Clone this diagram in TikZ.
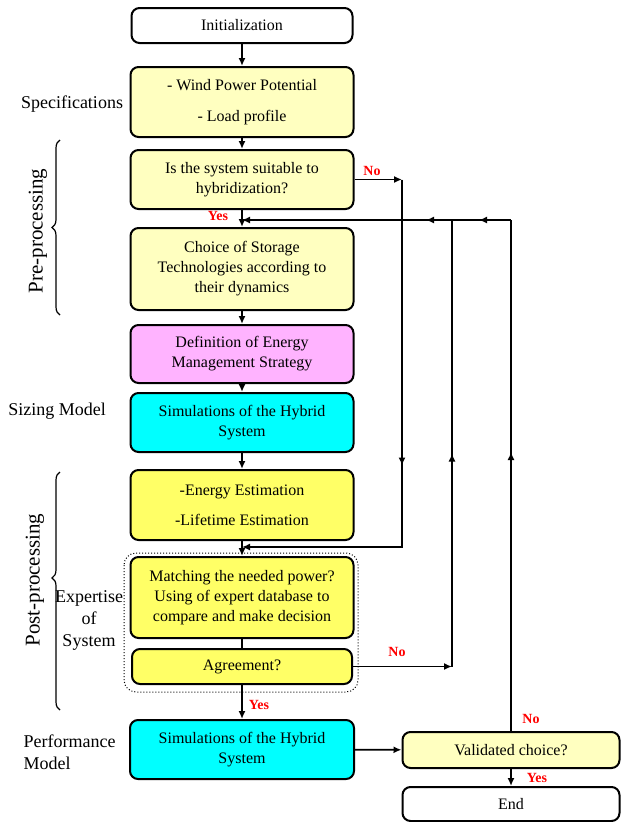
\documentclass[tikz,border=0pt]{standalone}
\usepackage{fontspec}
\setmainfont{Liberation Serif}
\usetikzlibrary{arrows.meta, decorations.pathreplacing, decorations.markings}
\definecolor{paleyellow}{RGB}{255,255,192}
\definecolor{brightyellow}{RGB}{255,255,102}
\definecolor{lilac}{RGB}{255,179,255}
\definecolor{aqua}{RGB}{0,255,255}

\begin{document}
\begin{tikzpicture}[x=1pt, y=-1pt,
  box/.style={draw, line width=2pt, rounded corners=8pt, minimum width=223pt, align=center, inner sep=2pt, font=\fontsize{16}{20}\selectfont},
  lab/.style={align=center, font=\fontsize{18}{22}\selectfont},
  side/.style={rotate=90, font=\fontsize{21}{24}\selectfont},
  ans/.style={text=red, font=\bfseries\fontsize{14}{16}\selectfont},
  line/.style={line width=1.6pt},
  arr/.style={line width=1.6pt, -{Latex[length=8pt, width=7pt]}},
  curly/.style={line width=1.2pt, decoration={brace, amplitude=8pt, aspect=#1}, decorate},
  midarrow/.style={decoration={markings, mark=at position #1 with {\arrow{Latex[length=8pt, width=7pt]}}}, postaction=decorate},
  twoarrows/.style 2 args={decoration={markings, mark=at position #1 with {\arrow{Latex[length=8pt, width=7pt]}}, mark=at position #2 with {\arrow{Latex[length=8pt, width=7pt]}}}, postaction=decorate}]
\useasboundingbox (0,0) rectangle (621,822);

\node[box, minimum width=221pt, minimum height=35pt] (init) at (242,25.5) {Initialization};
\node[box, fill=paleyellow, minimum height=70pt] (spec) at (242,102) {- Wind Power Potential\\[11pt]- Load profile};
\node[box, fill=paleyellow, minimum height=59pt] (suit) at (242,179.5) {Is the system suitable to\\hybridization?};
\node[box, fill=paleyellow, minimum height=82pt] (choice) at (242,269) {Choice of Storage\\Technologies according to\\their dynamics};
\node[box, fill=lilac, minimum height=58pt] (def) at (242,354) {Definition of Energy\\Management Strategy};
\node[box, fill=aqua, minimum height=59pt] (sim1) at (242,422.5) {Simulations of the Hybrid\\System};
\node[box, fill=brightyellow, minimum height=70pt] (est) at (242,505) {-Energy Estimation\\[10pt]-Lifetime Estimation};
\node[box, fill=brightyellow, minimum height=81pt] (match) at (242,597.5) {Matching the needed power?\\Using of expert database to\\compare and make decision};
\node[box, fill=brightyellow, minimum width=220pt, minimum height=35pt] (agree) at (242,666.5) {Agreement?};
\node[box, fill=aqua, minimum width=224pt, minimum height=59pt] (sim2) at (242,749.5) {Simulations of the Hybrid\\System};
\node[box, fill=paleyellow, minimum width=217pt, minimum height=36pt] (valid) at (511,750) {Validated choice?};
\node[box, minimum width=217pt, minimum height=34pt] (endn) at (511,804) {End};

\draw[dotted, line width=1pt, rounded corners=12pt] (124,553) rectangle (358,692);

\node[lab] (specs) at (72,104) {Specifications};
\node[lab] (sizing) at (57,411) {Sizing Model};
\node[lab, align=left, anchor=west] (perf) at (20,752) {Performance\\Model};
\node[lab] (expert) at (89,620) {Expertise\\of\\System};
\node[side] (pre) at (38,231) {Pre-processing};
\node[side] (post) at (35,580) {Post-processing};
\draw[curly=0.5] (60,315) -- (60,140);
\draw[curly=0.555] (60,710) -- (60,472);

\coordinate (noA) at (402,179.5);
\coordinate (noB) at (402,547);
\coordinate (inB) at (242,547);
\coordinate (inT) at (242,220);
\coordinate (agA) at (452,666.5);
\coordinate (agB) at (452,220);
\coordinate (vaB) at (511,220);

\draw[arr] (init) -- (spec);
\draw[arr] (spec) -- (suit);
\draw[arr] (suit) -- (choice);
\draw[arr] (choice) -- (def);
\draw[arr] (def) -- (sim1);
\draw[arr] (sim1) -- (est);
\draw[arr] (est) -- (match);
\draw[line] (match) -- (agree);
\draw[arr] (agree) -- (sim2);
\draw[arr] (sim2) -- (valid);
\draw[arr] (valid) -- (endn);

\draw[arr] (suit.east) -- (noA);
\draw[arr, midarrow=286pt] (noA) -- (noB) -- (inB);
\draw[arr] (agree.east) -- (agA);
\draw[line, midarrow=213pt] (agA) -- (agB);
\draw[line, midarrow=279pt] (valid.north) -- (vaB);
\draw[arr, twoarrows={32pt}{85pt}] (vaB) -- (inT);

\node[ans] (no1) at (372,171) {No};
\node[ans] (yes1) at (218,216) {Yes};
\node[ans] (no2) at (397,652) {No};
\node[ans] (yes2) at (259,705) {Yes};
\node[ans] (no3) at (531,719) {No};
\node[ans] (yes3) at (537,778) {Yes};
\end{tikzpicture}
\end{document}
